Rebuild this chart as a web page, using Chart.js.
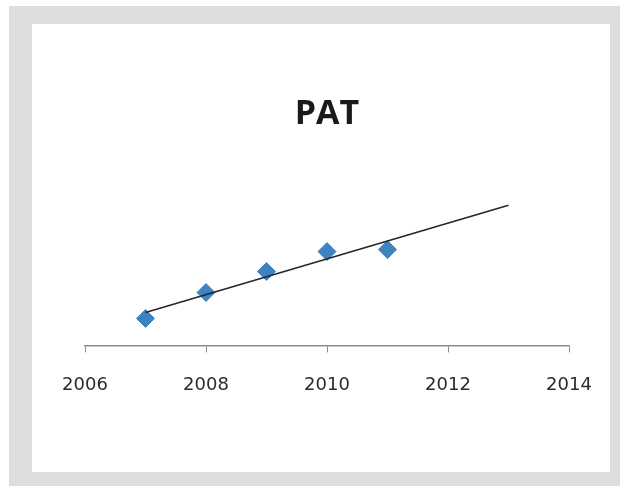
<!DOCTYPE html>
<html>
<head>
<meta charset="utf-8">
<script src="https://cdn.jsdelivr.net/npm/chart.js@4.4.1/dist/chart.umd.min.js"></script>
<style>
  html, body { margin: 0; padding: 0; background: #fff; }
  #frame {
    position: absolute;
    left: 9px;
    top: 6px;
    width: 611px;
    height: 480px;
    background: #dddddd;
  }
  #box {
    position: absolute;
    left: 32px;
    top: 24px;
    width: 578px;
    height: 448px;
    background: #fff;
  }
</style>
</head>
<body>
<div id="frame"></div>
<div id="box"><canvas id="patChart" width="578" height="448"></canvas></div>
<script>
// yearly PAT values
let years = [2007, 2008, 2009, 2010, 2011];
let pat = [27, 53, 74, 94, 96];

// x axis ticks and trendline span
let xTicks = [2006, 2008, 2010, 2012, 2014];
let trendYears = [2007, 2013];

// least squares fit through the yearly points
function linearFit(xs, ys) {
  let n = xs.length;
  let mx = xs.reduce((a, b) => a + b, 0) / n;
  let my = ys.reduce((a, b) => a + b, 0) / n;
  let sxy = 0;
  let sxx = 0;
  for (let i = 0; i < n; i++) {
    sxy += (xs[i] - mx) * (ys[i] - my);
    sxx += (xs[i] - mx) * (xs[i] - mx);
  }
  let slope = sxy / sxx;
  return { slope: slope, intercept: my - slope * mx };
}

let fit = linearFit(years, pat);
let trendPoints = trendYears.map((x) => ({ x: x, y: fit.intercept + fit.slope * x }));
let patPoints = years.map((x, i) => ({ x: x, y: pat[i] }));

let ctx = document.getElementById("patChart");

new Chart(ctx, {
  type: "scatter",
  data: {
    datasets: [
      {
        label: "Trend",
        type: "line",
        data: trendPoints,
        borderColor: "#262626",
        borderWidth: 1.5,
        pointRadius: 0,
        fill: false,
        order: 1, // drawn over the markers
      },
      {
        label: "PAT",
        data: patPoints,
        pointStyle: "rectRot",
        pointRadius: 9,
        backgroundColor: "#3d82c2",
        borderColor: "#3d82c2",
        borderWidth: 1,
        order: 2,
      },
    ],
  },
  options: {
    responsive: false,
    animation: false,
    layout: {
      padding: { left: 53, right: 41, top: 0, bottom: 54 },
    },
    plugins: {
      legend: { display: false },
      tooltip: { enabled: false },
      title: {
        display: true,
        text: "PAT",
        color: "#1a1a1a",
        font: { family: "'Open Sans'", size: 34, weight: "bold" },
        padding: { top: 70, bottom: 31 },
      },
    },
    scales: {
      x: {
        type: "linear",
        min: 2006,
        max: 2014,
        afterBuildTicks: (axis) => {
          axis.ticks = xTicks.map((v) => ({ value: v }));
        },
        // labels fit inside the layout padding, so no extra room needed
        afterFit: (axis) => {
          axis.paddingLeft = 0;
          axis.paddingRight = 0;
        },
        grid: {
          drawOnChartArea: false,
          drawTicks: true,
          tickLength: 7,
          color: "#8c8c8c",
        },
        border: { color: "#8c8c8c", width: 1.5 },
        ticks: {
          padding: 22,
          color: "#2b2b2b",
          maxRotation: 0,
          font: { family: "'DejaVu Sans'", size: 18 },
          callback: (v) => String(v),
        },
      },
      y: {
        display: false,
        min: 0,
        max: 180,
      },
    },
  },
});
</script>
</body>
</html>
